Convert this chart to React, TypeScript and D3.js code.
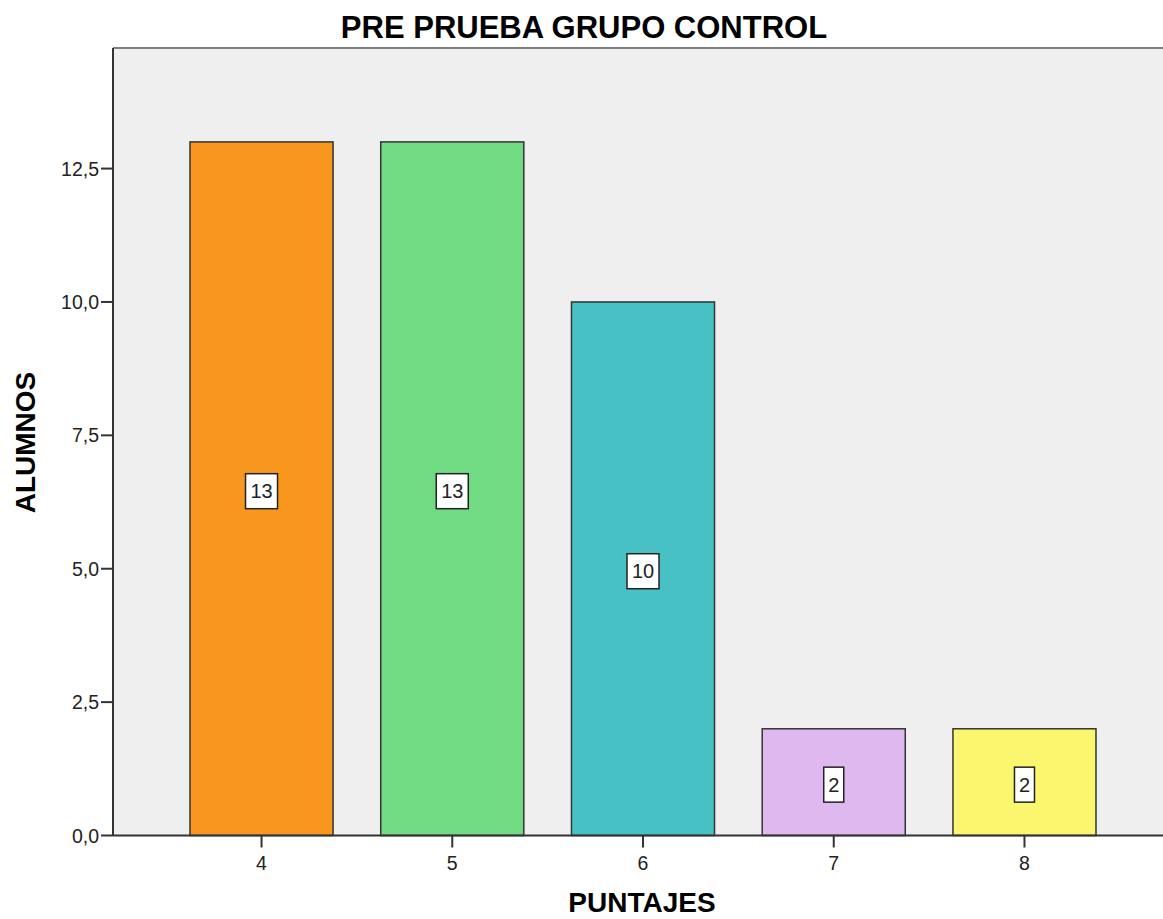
import React from "react";
import * as d3 from "d3";

const categories = ["4", "5", "6", "7", "8"];
const counts = [13, 13, 10, 2, 2];
const barColors = ["#F7971E", "#70DB83", "#48C1C5", "#DFB8F0", "#FAF76E"];
const yTicks = [0, 2.5, 5, 7.5, 10, 12.5];

const W = 1163;
const H = 919;
const plotLeft = 113;
const plotTop = 48;
const plotBottom = 835.5;
const yMax = 14.76;

export default function App() {
  const x = d3
    .scaleBand<string>()
    .domain(categories)
    .range([plotLeft, plotLeft + 1060])
    .paddingInner(0.25)
    .paddingOuter(0.4037);
  const y = d3.scaleLinear().domain([0, yMax]).range([plotBottom, plotTop]);
  const fmt = (v: number) => d3.format(".1f")(v).replace(".", ",");
  const font = "'Liberation Sans', Arial, sans-serif";

  return (
    <svg
      width={W}
      height={H}
      style={{ position: "absolute", left: 0, top: 0, display: "block", background: "#fff" }}
      fontFamily={font}
    >
      {/* plot background */}
      <rect x={plotLeft} y={plotTop} width={W - plotLeft} height={plotBottom - plotTop} fill="#EFEFEF" />
      {/* top frame line */}
      <line x1={plotLeft} x2={W} y1={plotTop} y2={plotTop} stroke="#7f7f7f" strokeWidth={2} />

      {/* bars */}
      {categories.map((c, i) => (
        <rect
          key={c}
          x={x(c)!}
          y={y(counts[i])}
          width={x.bandwidth()}
          height={plotBottom - y(counts[i])}
          fill={barColors[i]}
          stroke="#333"
          strokeWidth={1.5}
        />
      ))}

      {/* value labels */}
      {categories.map((c, i) => {
        const label = String(counts[i]);
        const bw = label.length === 1 ? 20 : 32;
        const cx = x(c)! + x.bandwidth() / 2;
        const cy = (y(counts[i]) + plotBottom) / 2 + 2.5;
        return (
          <g key={"l" + c}>
            <rect x={cx - bw / 2} y={cy - 17.5} width={bw} height={35} fill="#fff" stroke="#222" strokeWidth={1.5} />
            <text x={cx} y={cy + 7} textAnchor="middle" fontSize={20} fill="#222">
              {label}
            </text>
          </g>
        );
      })}

      {/* axes */}
      <line x1={plotLeft} x2={plotLeft} y1={plotTop} y2={plotBottom} stroke="#333" strokeWidth={2} />
      <line x1={plotLeft} x2={W} y1={plotBottom} y2={plotBottom} stroke="#333" strokeWidth={2} />

      {yTicks.map((t) => (
        <g key={"y" + t}>
          <line x1={plotLeft - 12} x2={plotLeft} y1={y(t)} y2={y(t)} stroke="#333" strokeWidth={2} />
          <text x={plotLeft - 14} y={y(t) + 7} textAnchor="end" fontSize={19.5} fill="#222">
            {fmt(t)}
          </text>
        </g>
      ))}

      {categories.map((c) => {
        const cx = x(c)! + x.bandwidth() / 2;
        return (
          <g key={"x" + c}>
            <line x1={cx} x2={cx} y1={plotBottom} y2={plotBottom + 12} stroke="#333" strokeWidth={2} />
            <text x={cx} y={plotBottom + 34} textAnchor="middle" fontSize={19.5} fill="#222">
              {c}
            </text>
          </g>
        );
      })}

      {/* titles */}
      <text x={584} y={38} textAnchor="middle" fontSize={31} fontWeight="bold" fill="#000">
        PRE PRUEBA GRUPO CONTROL
      </text>
      <text
        transform={`translate(35, 442.5) rotate(-90)`}
        textAnchor="middle"
        fontSize={28}
        fontWeight="bold"
        fill="#000"
      >
        ALUMNOS
      </text>
      <text x={642} y={912} textAnchor="middle" fontSize={28} fontWeight="bold" fill="#000">
        PUNTAJES
      </text>
    </svg>
  );
}
